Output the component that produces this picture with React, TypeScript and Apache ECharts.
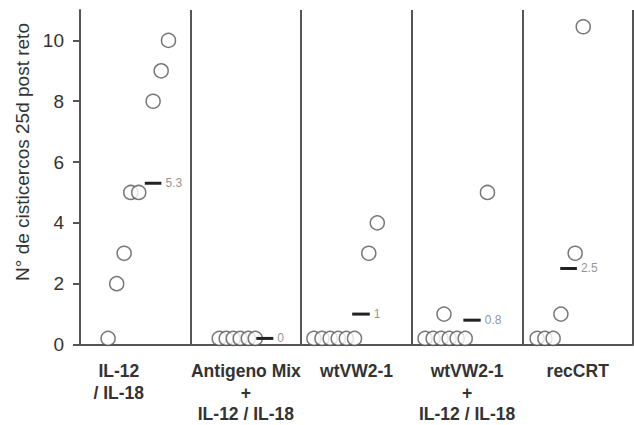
import React, { useEffect, useRef } from "react";
import * as echarts from "echarts";

const categories = [
  "IL-12\n/ IL-18",
  "Antigeno Mix\n+\nIL-12 / IL-18",
  "wtVW2-1",
  "wtVW2-1\n+\nIL-12 / IL-18",
  "recCRT",
];

// jittered x positions (group i spans [i, i+1]) and values
const il12X = [0.254, 0.332, 0.399, 0.459, 0.531, 0.661, 0.734, 0.8];
const il12Y = [0.2, 2, 3, 5, 5, 8, 9, 10];
const mixX = [1.259, 1.322, 1.386, 1.449, 1.522, 1.585];
const mixY = [0.2, 0.2, 0.2, 0.2, 0.2, 0.2];
const wtX = [2.115, 2.188, 2.262, 2.335, 2.408, 2.482, 2.611, 2.688];
const wtY = [0.2, 0.2, 0.2, 0.2, 0.2, 0.2, 3, 4];
const wtIlX = [3.12, 3.193, 3.265, 3.338, 3.41, 3.483, 3.291, 3.684];
const wtIlY = [0.2, 0.2, 0.2, 0.2, 0.2, 0.2, 1, 5];
const crtX = [4.133, 4.203, 4.278, 4.348, 4.477, 4.55];
const crtY = [0.2, 0.2, 0.2, 1, 3, 10.45];

const means = [5.3, 0.2, 1, 0.8, 2.5];
const meanLabels = ["5.3", "0", "1", "0.8", "2.5"];
const meanXStart = [0.586, 1.594, 2.461, 3.466, 4.342];
const meanXEnd = [0.736, 1.748, 2.62, 3.623, 4.493];

const yTicks = [0, 2, 4, 6, 8, 10];

const groupsX = [il12X, mixX, wtX, wtIlX, crtX];
const groupsY = [il12Y, mixY, wtY, wtIlY, crtY];

const FONT = "Liberation Sans, Arial, sans-serif";
const AXIS = "#555";

export default function App() {
  const ref = useRef<HTMLDivElement>(null);
  useEffect(() => {
    if (!ref.current) return;
    const chart = echarts.init(ref.current, undefined, { renderer: "svg" });
    const scatterSeries = groupsX.map((xs, g) => ({
      type: "scatter",
      xAxisIndex: 0,
      yAxisIndex: 0,
      symbol: "circle",
      symbolSize: 14,
      itemStyle: { color: "#fff", borderColor: "#555", borderWidth: 1.5 },
      z: 3,
      data: xs.map((x, i) => [x, groupsY[g][i]]),
    }));
    const meanSeries = means.map((m, g) => ({
      type: "line",
      xAxisIndex: 0,
      yAxisIndex: 0,
      symbol: "none",
      z: 4,
      color: "#222",
      lineStyle: { color: "#222", width: 3 },
      data: [
        [meanXStart[g], m],
        [meanXEnd[g], m],
      ],
    }));
    const meanLabelSeries = {
      type: "scatter",
      xAxisIndex: 0,
      yAxisIndex: 0,
      symbolSize: 0,
      z: 5,
      itemStyle: { color: "transparent" },
      label: {
        show: true,
        position: "right",
        distance: 4,
        color: "#777",
        fontSize: 12,
        fontFamily: FONT,
        formatter: (p: any) => meanLabels[p.dataIndex],
      },
      data: means.map((m, g) => [meanXEnd[g], m]),
    };
    chart.setOption({
      animation: false,
      backgroundColor: "#fff",
      grid: { left: 80, right: 1, top: 10, bottom: 80, containLabel: false },
      xAxis: [
        {
          type: "value",
          min: 0,
          max: 5,
          interval: 1,
          axisLine: { show: true, lineStyle: { color: AXIS, width: 2 } },
          axisTick: { show: false },
          axisLabel: { show: false },
          splitLine: { show: true, lineStyle: { color: AXIS, width: 2 } },
        },
        {
          type: "category",
          data: categories.map((c, i) =>
            i === 0 ? { value: c, textStyle: { padding: [0, 33, 0, 0] } } : c
          ),
          boundaryGap: true,
          position: "bottom",
          axisLine: { show: false },
          axisTick: { show: false },
          splitLine: { show: false },
          axisLabel: {
            interval: 0,
            margin: 16,
            fontFamily: FONT,
            fontWeight: "bold",
            fontSize: 17.5,
            lineHeight: 21.5,
            color: "#333",
          },
        },
      ],
      yAxis: {
        type: "value",
        min: 0,
        max: 11,
        axisLine: { show: true, lineStyle: { color: AXIS, width: 2 } },
        axisTick: {
          show: true,
          length: 7,
          customValues: yTicks,
          lineStyle: { color: AXIS, width: 2 },
        },
        axisLabel: {
          customValues: yTicks,
          margin: 16,
          fontFamily: FONT,
          fontSize: 19,
          color: "#333",
        },
        splitLine: { show: false },
      },
      graphic: [
        {
          type: "text",
          x: 22,
          y: 152,
          rotation: Math.PI / 2,
          style: {
            text: "N° de cisticercos 25d post reto",
            font: `19px ${FONT}`,
            fill: "#333",
            textAlign: "center",
            textVerticalAlign: "middle",
          },
        },
      ],
      series: [...scatterSeries, ...meanSeries, meanLabelSeries],
    });
    return () => chart.dispose();
  }, []);
  return (
    <div
      ref={ref}
      style={{ position: "fixed", left: 0, top: 0, width: 634, height: 425 }}
    />
  );
}
